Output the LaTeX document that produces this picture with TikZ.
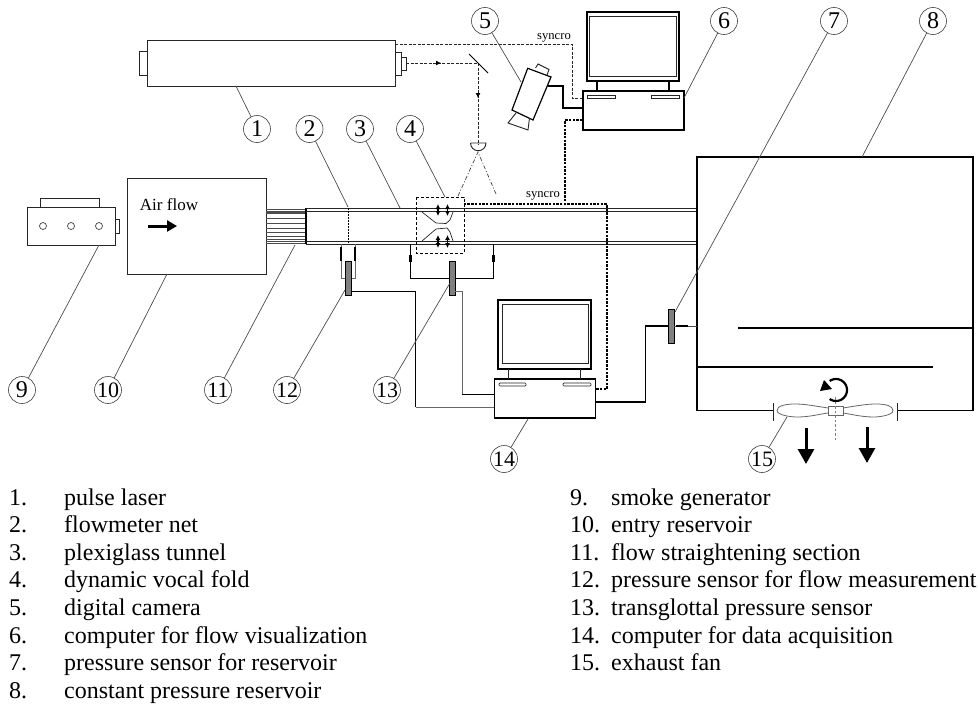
\documentclass[tikz,border=0pt]{standalone}
\usepackage{fontspec}
\setmainfont{Liberation Serif}
\usetikzlibrary{calc}
\usetikzlibrary{arrows.meta}
\tikzset{>=latex}
\tikzset{
  numcirc/.style={draw=black!75, line width=0.6pt, circle, minimum size=27pt, inner sep=0pt, font=\fontsize{24}{24}\selectfont},
  numcircs/.style={numcirc, font=\fontsize{22}{22}\selectfont},
  leader/.style={draw=black!70, line width=0.7pt},
  outline/.style={draw=black!85, line width=0.9pt},
  heavy/.style={draw=black, line width=1.2pt},
  pcbox/.style={draw=black, line width=1.2pt, rectangle, inner sep=0pt, minimum width=101pt, minimum height=39pt},
  dashline/.style={draw=black, line width=1.1pt, dash pattern=on 2.5pt off 1.2pt},
  sensorbar/.style={draw=black, fill=black!50, line width=0.8pt},
  listtext/.style={anchor=base west, inner sep=0pt, font=\fontsize{24}{24}\selectfont},
  smalltext/.style={inner sep=0pt, font=\fontsize{12.6}{12.6}\selectfont},
}

\begin{document}
\begin{tikzpicture}[x=1pt, y=-1pt]
\useasboundingbox (0,0) rectangle (978,704);

% laser
\node[outline, rectangle, inner sep=0pt, minimum width=248pt, minimum height=46pt] (laser) at (271,63) {};
\draw[outline] (147,51) -- (139.5,51) -- (139.5,75) -- (147,75);
\draw[outline] (395,52) -- (401,52) -- (401,75) -- (395,75);
\draw[outline] (401,57) -- (406,57) -- (406,70) -- (401,70);
\draw[black!85, line width=0.9pt, dash pattern=on 3pt off 1.5pt] (406,63) -- (478,63) -- (478,145);
\draw[-{Latex[length=5pt,width=5pt]}, line width=0.8pt] (436,63) -- (441,63);
\draw[-{Latex[length=5pt,width=5pt]}, line width=0.8pt] (478,93) -- (478,98);
\draw[line width=0.9pt] (469,54) -- (488,73);
\draw[outline] (470.5,143) -- (486,143) arc[start angle=0, end angle=180, radius=7.75];
\draw[black!75, line width=0.7pt, dash pattern=on 4pt off 2pt on 1pt off 2pt] (458,196) -- (478,152) -- (496,194);

% camera
\draw[heavy] (527.7,68.3) -- (551,77) -- (533,120) -- (512,110) -- cycle;
\draw[outline] (535.5,68) -- (538,64) -- (549,69.5) -- (547,75);
\draw[outline] (516,113) -- (508,123) -- (528,130) -- (529.5,118);

% computer for visualization
\node[pcbox] (pcvis) at (633.5,110.5) {};
\draw[heavy] (587,12) rectangle (679,81);
\draw[outline] (589.5,16) rectangle (676,76);
\draw[heavy] (597,81) -- (597,91);
\draw[heavy] (669,81) -- (669,91);
\draw[outline] (587,95) rectangle (615,98.5);
\draw[outline] (651,95) rectangle (679,98.5);
\draw[heavy] (548,86) -- (563,86) -- (563,108) -- (pcvis.west |- 563,108);
\draw[black!85, line width=0.9pt, dash pattern=on 3pt off 1.5pt] (395,44) -- (572,44) -- (572,98) -- (pcvis.west |- 572,98);
\draw[dashline] (pcvis.west |- 565,120) -- (565,120) -- (565,204);
\node[smalltext] (syncroA) at (554,38) {syncro};
\node[smalltext] (syncroB) at (543,196) {syncro};

% smoke generator
\node[outline, rectangle, inner sep=0pt, minimum width=88pt, minimum height=38pt] (smoke) at (71.5,226) {};
\draw[outline] (40.5,207) -- (40.5,198.5) -- (99,198.5) -- (99,207);
\draw[outline] (115.5,219) -- (119,219) -- (119,233) -- (115.5,233);
\foreach \x in {43,71,99}
  \draw[black!75, line width=0.7pt] (\x,226) circle (3.5);

% entry reservoir
\node[outline, rectangle, inner sep=0pt, minimum width=139pt, minimum height=96pt] (entry) at (196.5,226) {};
\node[inner sep=0pt, font=\fontsize{17}{17}\selectfont] (airflow) at (169,205) {Air flow};
\draw[-{Triangle[length=10pt,width=11pt]}, line width=3pt] (148,226) -- (177,226);

% straightener and tunnel
\foreach \y in {209,211,212.5,213.5,218.5,223.5,228.5,232.5,236.5,239.5,241.5,243.5}
  \draw[black!70, line width=0.7pt] (266,\y) -- (306,\y);
\draw[heavy] (306,208) -- (306,244);
\foreach \y in {208,211,241,244}
  \draw[black!85, line width=0.8pt] (306,\y) -- (697,\y);
\draw[line width=1pt, dash pattern=on 2pt off 1pt] (348,208) -- (348,244);

% vocal fold
\draw[black, line width=0.9pt, dash pattern=on 3pt off 2pt] (416,197) rectangle (464,253);
\draw[black!85, line width=0.7pt] (422,212) -- (436,223) -- (446,223.5) -- (450,220) -- (453,212);
\draw[black!85, line width=0.7pt] (422,241) -- (436,229) -- (447,228) -- (450,232) -- (453,241);
\foreach \x in {438,447.5} {
  \draw[{Latex[length=5pt,width=5pt]}-{Latex[length=5pt,width=5pt]}, line width=1.4pt] (\x,204) -- (\x,216);
  \draw[{Latex[length=5pt,width=5pt]}-{Latex[length=5pt,width=5pt]}, line width=1.4pt] (\x,235) -- (\x,248);
}

% flow sensor
\draw[black!60, line width=0.9pt] (341,244) -- (341,278) -- (345,278);
\draw[black!60, line width=0.9pt] (355,244) -- (355,278) -- (351,278);
\draw[line width=2.5pt] (341,247) -- (341,261);
\draw[line width=2.5pt] (355,247) -- (355,261);
\draw[sensorbar] (345,261) rectangle (351,295);
\draw[black, line width=0.8pt] (351,291) -- (415.5,291) -- (415.5,407);

% transglottal sensor
\draw[black, line width=1pt] (410.7,244) -- (410.7,278) -- (449,278);
\draw[black, line width=1pt] (493,244) -- (493,278) -- (455,278);
\draw[line width=3pt] (410.7,255) -- (410.7,262);
\draw[line width=3pt] (493,255) -- (493,262);
\draw[sensorbar] (449,261) rectangle (455,295);
\draw[black!60, line width=0.9pt] (455,291) -- (462,291) -- (462,394);

% computer for data
\node[pcbox] (pcdata) at (545,398.5) {};
\draw[heavy] (498,300) rectangle (591,369);
\draw[outline] (502,304) rectangle (588,363);
\draw[outline] (508,369) -- (508,379);
\draw[outline] (580,369) -- (580,379);
\draw[black!85, line width=0.7pt, rounded corners=1pt] (499,383) rectangle (526,386);
\draw[black!85, line width=0.7pt, rounded corners=1pt] (563,383) rectangle (591,386);
\draw[black!60, line width=0.9pt] (415.5,407) -- (pcdata.west |- 415.5,407);
\draw[black, line width=0.8pt] (462,394) -- (pcdata.west |- 462,394);
\draw[dashline] (pcdata.east |- 607,389) -- (607,389) -- (607,204) -- (464,204);
\draw[heavy] (pcdata.east |- 645,402) -- (645.5,402) -- (645.5,326) -- (668,326);

% reservoir
\draw[heavy] (773,410.5) -- (697,410.5) -- (697,157) -- (973,157) -- (973,410.5) -- (897,410.5);
\draw[heavy] (738,328) -- (973,328);
\draw[heavy] (697,367) -- (933,367);
\draw[black!85, line width=0.7pt] (773,403) -- (773,421);
\draw[black!85, line width=0.7pt] (897,403) -- (897,421);
\draw[sensorbar] (668,309) rectangle (674,343);
\draw[black!70, line width=0.9pt] (674,326) -- (697,326);
\draw[line width=2pt] (676,326) -- (688,326);

% fan
\draw[black!60, line width=0.8pt] (828,408) .. controls (815,406) and (805,404) .. (795,404) .. controls (785,404) and (777,406) .. (777,410.5) .. controls (777,415) and (790,417) .. (797,417) .. controls (810,417) and (820,414) .. (828,413);
\draw[black!60, line width=0.8pt] (843,408) .. controls (856,406) and (866,404) .. (876,404) .. controls (886,404) and (893,406) .. (893,410.5) .. controls (893,415) and (880,417) .. (874,417) .. controls (861,417) and (851,414) .. (843,413);
\draw[black!60, line width=0.8pt] (828,406) rectangle (843,415);
\draw[black!50, line width=0.9pt, dash pattern=on 2.5pt off 2pt] (835.5,397) -- (835.5,440);
\draw[line width=2.2pt, variable=\t, domain=125:-125, samples=40] plot ({836+11*cos(\t)},{390+11*sin(\t)});
\fill (820,391) -- (824,380) -- (832,389) -- cycle;
\draw[-{Triangle[length=15pt,width=16pt]}, line width=3pt] (806,428) -- (806,464);
\draw[-{Triangle[length=15pt,width=16pt]}, line width=3pt] (867,427) -- (867,463);

% numbered leaders
\foreach \n/\x/\y/\a/\b in {1/257/129/236/86, 2/309.5/129/348/207, 3/360/129/400/208, 4/410/129/445/197, 5/485/21/521/82, 6/724/21/684/98, 7/834/21/675/312, 8/933/21/862/157, 9/22/390/99/245} {
  \node[numcirc] (n\n) at (\x,\y) {\n};
  \coordinate (t\n) at (\a,\b);
  \draw[leader] (n\n) -- (t\n);
}
\foreach \n/\x/\y/\a/\b in {10/108/390/167/274, 11/218/390/295/245, 12/287/390/345/290, 13/387/390/450/283, 14/504/459/528/419, 15/762/459/787/417} {
  \node[numcircs] (n\n) at (\x,\y) {\n};
  \coordinate (t\n) at (\a,\b);
  \draw[leader] (n\n) -- (t\n);
}

% list
\foreach \txt [count=\i from 0] in {pulse laser, flowmeter net, plexiglass tunnel, dynamic vocal fold, digital camera, computer for flow visualization, pressure sensor for reservoir, constant pressure reservoir} {
  \pgfmathtruncatemacro{\num}{\i+1}
  \node[listtext] (la\i) at (9,{505+27.6*\i}) {\num.};
  \node[listtext] (lb\i) at (64,{505+27.6*\i}) {\txt};
}
\foreach \txt [count=\i from 0] in {smoke generator, entry reservoir, flow straightening section, pressure sensor for flow measurement, transglottal pressure sensor, computer for data acquisition, exhaust fan} {
  \pgfmathtruncatemacro{\num}{\i+9}
  \node[listtext] (ra\i) at (570,{505+27.6*\i}) {\num.};
  \node[listtext] (rb\i) at (611,{505+27.6*\i}) {\txt};
}

\end{tikzpicture}
\end{document}
